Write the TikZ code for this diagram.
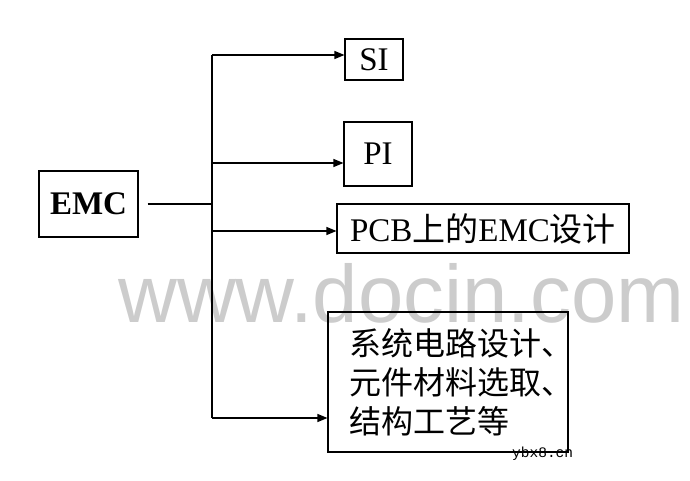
\documentclass[tikz,border=0pt]{standalone}
\usepackage{fontspec}
\setmainfont{Liberation Serif}
\newfontfamily\cjk{Noto Sans CJK SC}
\newfontfamily\wmfont{Liberation Sans}
\newfontfamily\tagfont{Liberation Mono}
\usetikzlibrary{arrows.meta}

\begin{document}
\begin{tikzpicture}[x=1pt,y=-1pt,box/.style={draw,line width=1.1pt,inner sep=0pt,font=\fontsize{33}{39}\selectfont},link/.style={line width=1.1pt},arr/.style={link,-{Triangle[length=10pt,width=8pt]}}]
        \useasboundingbox (0,0) rectangle (690,481);
        \node[anchor=base west,inner sep=0pt,text=black!20,font=\wmfont\fontsize{81.5}{81.5}\selectfont] (wm) at (118,322) {www.docin.com};
        \path
          (88.5,204) node[box,minimum width=99pt,minimum height=66pt,font=\fontsize{33}{39}\selectfont\bfseries] (emc) {EMC}
          (374,59.5) node[box,minimum width=58pt,minimum height=41pt] (si)  {SI}
          (378,154)  node[box,minimum width=68pt,minimum height=64pt] (pi)  {PI}
          (483,228.5) node[box,minimum width=292pt,minimum height=49pt] (pcb) {PCB{\cjk 上的}EMC{\cjk 设计}}
          (448,382)  node[box,minimum width=240pt,minimum height=140pt,text width=198pt,inner xsep=21pt,align=left,font=\cjk\fontsize{32}{39}\selectfont] (sys) {系统电路设计、\\元件材料选取、\\结构工艺等};
        \coordinate (jn) at (212,204);
        \coordinate (b1) at (212,55);
        \coordinate (b2) at (212,163);
        \coordinate (b3) at (212,231);
        \coordinate (b4) at (212,418);
        \draw[link,shorten <=9pt] (emc.east) -- (jn);
        \draw[link] (b1) -- (b4);
        \draw[arr] (b1) -- (b1 -| si.west);
        \draw[arr] (b2) -- (b2 -| pi.west);
        \draw[arr] (b3) -- (b3 -| pcb.west);
        \draw[arr] (b4) -- (b4 -| sys.west);
        \node[anchor=base west,inner sep=0pt,font=\tagfont\fontsize{14.5}{14.5}\selectfont] (tag) at (512,457) {ybx8.cn};
      \end{tikzpicture}
\end{document}
